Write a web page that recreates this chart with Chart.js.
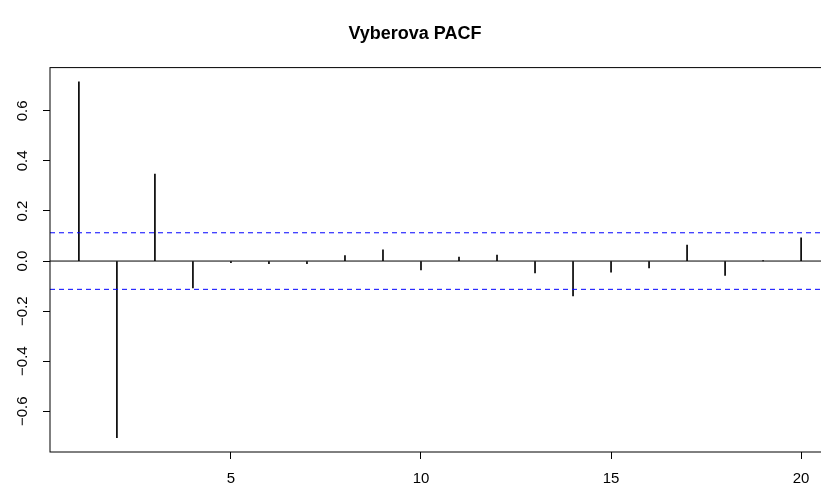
<!DOCTYPE html>
<html><head><meta charset="utf-8">
<script src="https://cdn.jsdelivr.net/npm/chart.js@4/dist/chart.umd.min.js"></script>
<style>
html,body{margin:0;padding:0;background:#fff;overflow:hidden;width:821px;height:491px;}
#wrap{width:880px;height:491px;}
canvas{display:block;}
</style></head><body>
<div id="wrap"><canvas id="c" width="880" height="491"></canvas></div>
<script>
const chartTitle = 'Vyberova PACF';
const lags = [1,2,3,4,5,6,7,8,9,10,11,12,13,14,15,16,17,18,19,20];
const pacfValues = [0.716,-0.706,0.348,-0.107,-0.006,-0.010,-0.010,0.022,0.045,-0.035,0.016,0.024,-0.047,-0.139,-0.044,-0.027,0.064,-0.057,0.001,0.093];
const confLimit = 0.113;
const xTickValues = [5,10,15,20];
const xTickLabels = ['5','10','15','20'];
const yTickValues = [-0.6,-0.4,-0.2,0,0.2,0.4,0.6];
const yTickLabels = ['\u22120.6','\u22120.4','\u22120.2','0.0','0.2','0.4','0.6'];
const xRange = [0.24, 20.76];
const yRange = [-0.763, 0.773];

const FONT = "'Liberation Sans', Arial, Helvetica, sans-serif";

const refLines = {
  id: 'refLines',
  afterDatasetsDraw(chart) {
    const {ctx, chartArea: a, scales: {y}} = chart;
    ctx.save();
    ctx.lineWidth = 1;
    ctx.strokeStyle = '#000';
    const y0 = y.getPixelForValue(0);
    ctx.beginPath(); ctx.moveTo(a.left, y0); ctx.lineTo(a.right, y0); ctx.stroke();
    ctx.strokeStyle = '#0000FF';
    ctx.setLineDash([5, 4]);
    [confLimit, -confLimit].forEach(v => {
      const py = y.getPixelForValue(v);
      ctx.beginPath(); ctx.moveTo(a.left, py); ctx.lineTo(a.right, py); ctx.stroke();
    });
    ctx.setLineDash([]);
    ctx.strokeStyle = '#000';
    ctx.strokeRect(a.left, a.top, a.right - a.left, a.bottom - a.top);
    ctx.restore();
  }
};

new Chart(document.getElementById('c'), {
  type: 'bar',
  data: {
    datasets: [{
      data: lags.map((l, i) => ({x: l, y: pacfValues[i]})),
      backgroundColor: '#000',
      borderWidth: 0,
      barThickness: 1
    }]
  },
  options: {
    responsive: false,
    animation: false,
    devicePixelRatio: 1,
    layout: {padding: {left: 0, right: 50, top: 0, bottom: 0}},
    plugins: {
      legend: {display: false},
      tooltip: {enabled: false},
      title: {
        display: true, text: chartTitle, color: '#000',
        font: {family: FONT, size: 18, weight: 'bold'},
        padding: {top: 23, bottom: 23}
      }
    },
    scales: {
      x: {
        type: 'linear', min: xRange[0], max: xRange[1], offset: false,
        afterBuildTicks: s => { s.ticks = xTickValues.map(v => ({value: v})); },
        afterFit: s => { s.height = 39; },
        grid: {display: true, offset: false, drawOnChartArea: false, drawTicks: true, tickLength: 7, color: '#000', lineWidth: 1},
        border: {display: false},
        ticks: {color: '#000', font: {family: FONT, size: 15}, padding: 11, maxRotation: 0, autoSkip: false,
          callback: (v, i) => xTickLabels[i]}
      },
      y: {
        type: 'linear', min: yRange[0], max: yRange[1],
        afterBuildTicks: s => { s.ticks = yTickValues.map(v => ({value: v})); },
        afterFit: s => { s.width = 50; },
        grid: {display: true, drawOnChartArea: false, drawTicks: true, tickLength: 7, color: '#000', lineWidth: 1},
        border: {display: false},
        ticks: {color: '#000', font: {family: FONT, size: 15}, padding: 5, minRotation: 90, maxRotation: 90,
          crossAlign: 'center', autoSkip: false,
          callback: (v, i) => yTickLabels[i]}
      }
    }
  },
  plugins: [refLines]
});
</script>
</body></html>
